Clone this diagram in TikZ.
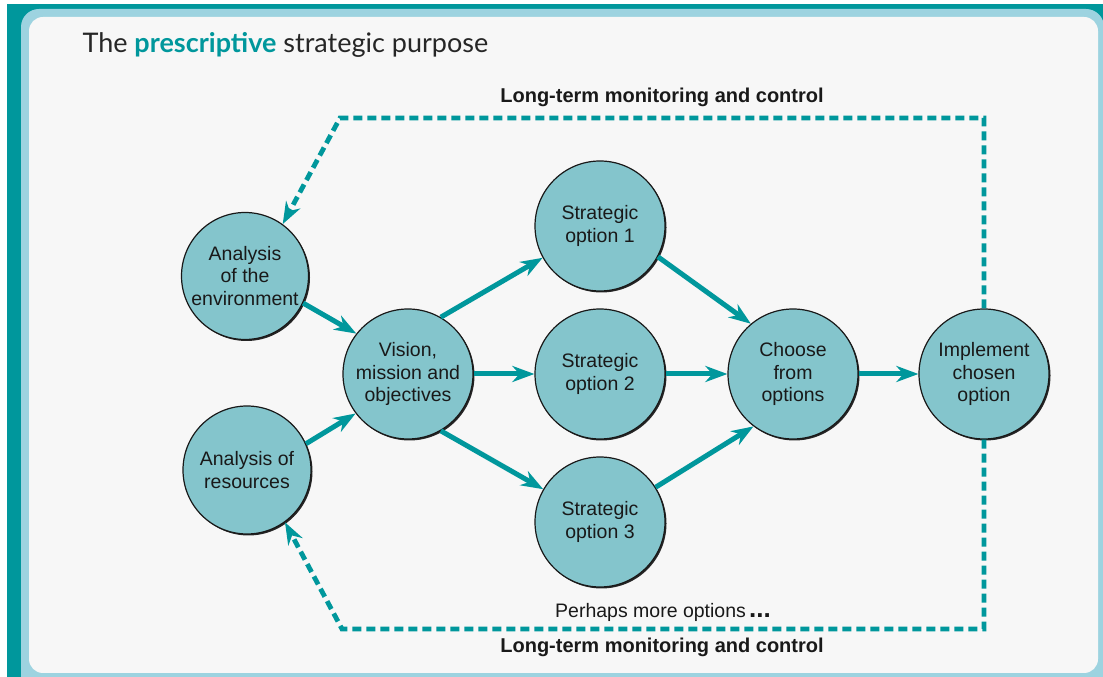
\documentclass[tikz,border=0pt]{standalone}
\usepackage{fontspec}
\setmainfont{Liberation Sans}
\newfontfamily\titlefont{Lato}
\usetikzlibrary{arrows.meta,positioning,shadows}
\definecolor{darkteal}{HTML}{00979C}
\definecolor{circfill}{HTML}{84C5CC}
\definecolor{rimblue}{HTML}{9DD3E0}
\definecolor{panelgray}{HTML}{F7F7F7}
\tikzset{
circ/.style    = {draw=black!90, line width=1.2pt, fill=circfill, circle, minimum size=130pt, inner sep=0pt,
                  align=center, text=black!90, font=\fontsize{19.5}{22.5}\selectfont,
                  drop shadow={shadow xshift=1.5pt, shadow yshift=-1.5pt, fill=black!85, opacity=1}},
tmp/.style     = {coordinate},
flow/.style    = {->, draw=darkteal, line width=5pt},
monitor/.style = {->, draw=darkteal, line width=4.8pt, dash pattern=on 9pt off 5pt},
label/.style   = {font=\bfseries\fontsize{20}{22}\selectfont, text=black!90}
}

\begin{document}
\begin{tikzpicture}[x=1pt, y=1pt, node distance=192pt, >={Stealth[length=22pt,width=16pt,inset=7pt]}]
  % frame
  \useasboundingbox (0,0) rectangle (1103,677);
  \clip (0,0) rectangle (1103,677);
  \fill [white] (0,0) rectangle (1103,677);
  \fill [darkteal] (7,-5) rectangle (1110,673);
  \fill [rimblue, rounded corners=18pt] (21,-20) rectangle (1104,668);
  \fill [panelgray, rounded corners=14pt] (29,4) rectangle (1098,660);
  \node [anchor=base west, text=black!85] (title) at (79,624)
        {\titlefont\fontsize{27}{30}\selectfont The \textcolor{darkteal}{\bfseries prescriptive} strategic purpose};

  \node [circ]                                        (vision)    at (408,303) {Vision,\\mission and\\objectives};
  \node [circ, right of=vision]                       (option2)   {Strategic\\option 2};
  \node [circ, above of=option2, node distance=148pt] (option1)   {Strategic\\option 1};
  \node [circ, below of=option2, node distance=148pt] (option3)   {Strategic\\option 3};
  \node [circ, right of=option2, node distance=193pt] (choose)    {Choose\\from\\options};
  \node [circ, right of=choose, node distance=191pt]  (implement) {Implement\\chosen\\option};
  \node [circ, minimum size=127pt]                    (envir)     at (245,401) {Analysis\\of the\\environment};
  \node [circ, minimum size=128pt]                    (resour)    at (247,207) {Analysis of\\resources};
  \node [tmp]                                         (tmp1)      at (340,559) {};
  \node [tmp]                                         (tmp2)      at (984,559) {};
  \node [tmp]                                         (tmp3)      at (984,48)  {};
  \node [tmp]                                         (tmp4)      at (342,48)  {};

  \node [label] (ltop) at (662,580) {Long-term monitoring and control};
  \node [label] (lbot) at (662,30)  {Long-term monitoring and control};
  \node [text=black!90, font=\fontsize{19.5}{22}\selectfont] (more) at (663,65)
        {Perhaps more options\,{\bfseries\fontsize{26}{26}\selectfont ...}};

  \draw [flow] (envir.-25) -- (vision.142);
  \draw [flow] (resour.24) -- (vision.217);
  \draw [flow] (vision.60) -- (option1.209);
  \draw [flow] (vision) -- (option2);
  \draw [flow] (vision.-60) -- (option3.150);
  \draw [flow] (option1.-28) -- (choose.130);
  \draw [flow] (option2) -- (choose);
  \draw [flow] (option3.32) -- (choose.233);
  \draw [flow] (choose) -- (implement);
  \draw [monitor] (implement.north) -- (tmp2) -- (tmp1) -- (envir.54);
  \draw [monitor] (implement.south) -- (tmp3) -- (tmp4) -- (resour.-54);
\end{tikzpicture}
\end{document}
